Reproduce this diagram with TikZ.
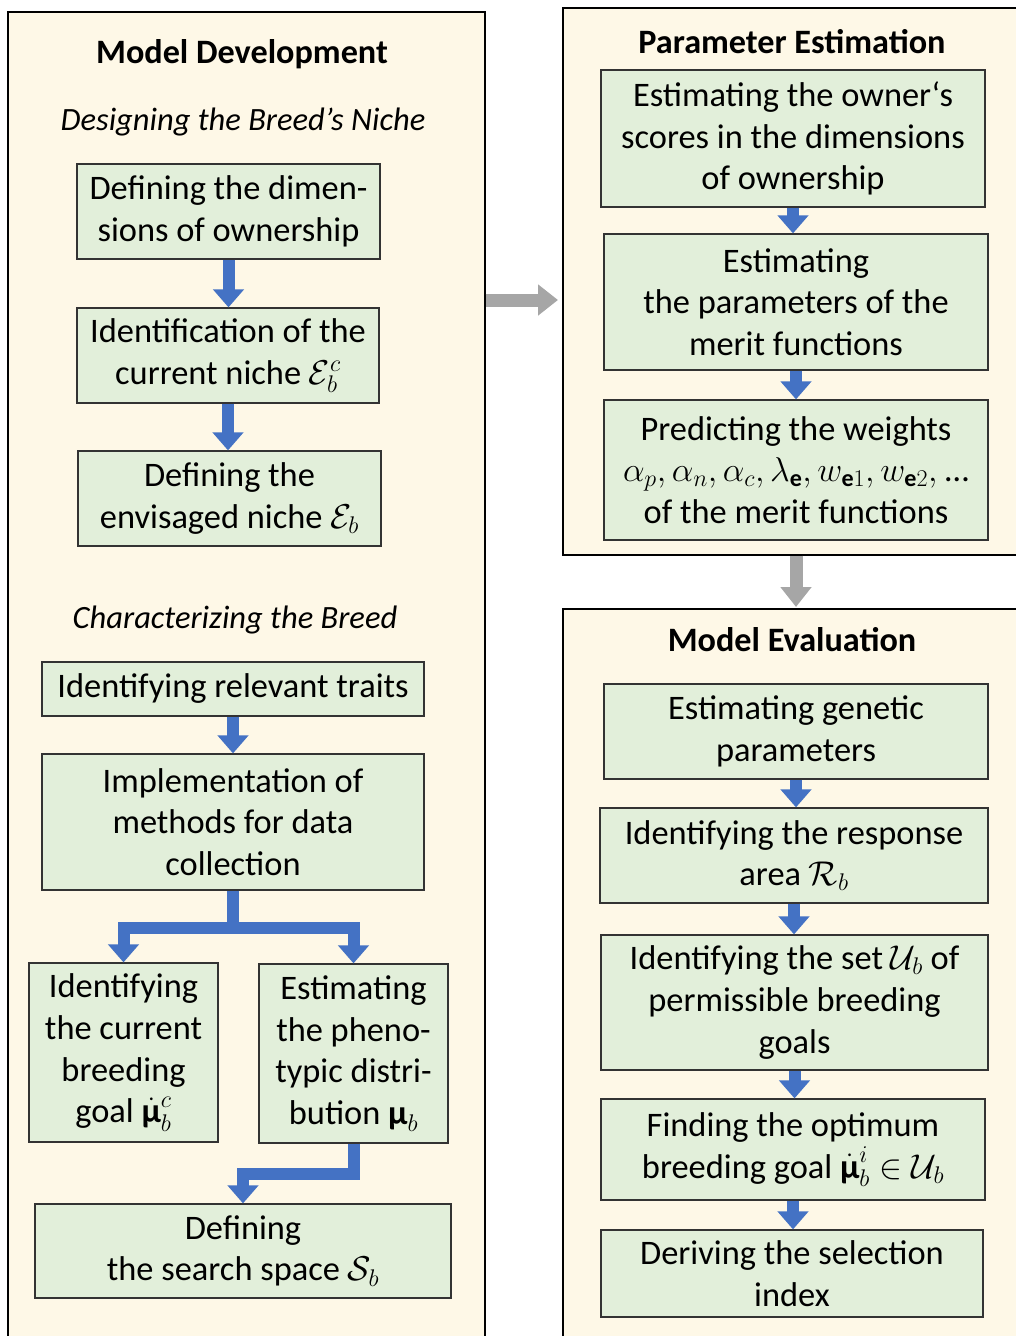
\RequirePackage{fix-cm}
\documentclass[tikz,border=0pt]{standalone}
\usepackage{amsmath,bm}
\usepackage{fontspec}
\setmainfont{Carlito}
\usetikzlibrary{arrows.meta}
\definecolor{cream}{HTML}{FEF8E7}
\definecolor{lgreen}{HTML}{E2EFDA}
\definecolor{bblue}{HTML}{4472C4}
\definecolor{agray}{HTML}{A6A6A6}
\newcommand{\bmu}{\text{\bfseries μ}}
\tikzset{
  panel/.style={draw=black, line width=1.3pt, fill=cream, inner sep=0pt},
  gbox/.style={draw=black!80, line width=1.2pt, fill=lgreen, align=center, inner sep=0pt,
    font=\fontsize{34.4}{41.7}\selectfont},
  ptitle/.style={font=\fontsize{34.2}{40}\selectfont\bfseries},
  sub/.style={font=\fontsize{32.5}{39}\selectfont\itshape},
  barrow/.style={draw=bblue, line width=12pt, line join=miter,
    -{Triangle[width=30pt,length=18pt]}},
  garrow/.style={draw=agray, line width=13pt,
    -{Triangle[width=30pt,length=20pt]}}
}
\begin{document}
\begin{tikzpicture}[x=1pt,y=-1pt]
\useasboundingbox (0,0) rectangle (1016,1336);
% panels
\node[panel, minimum width=477, minimum height=1328] (LP) at (246.5,676) {};
\node[panel, minimum width=454, minimum height=547] (PE) at (790,281.5) {};
\node[panel, minimum width=454, minimum height=731] (ME) at (790,974.5) {};
% titles
\node[ptitle] (t1) at (242,54) {Model Development};
\node[sub] (s1) at (243,122) {Designing the Breed’s Niche};
\node[sub] (s2) at (235,620) {Characterizing the Breed};
\node[ptitle] (t2) at (792,42) {Parameter Estimation};
\node[ptitle] (t3) at (792,640) {Model Evaluation};
% left boxes
\node[gbox, minimum width=303, minimum height=95] (L1) at (228.5,211.5) {Defining the dimen-\\sions of ownership};
\node[gbox, minimum width=302, minimum height=95] (L2) at (228,355.5) {Identification of the\\current niche $\mathcal{E}_b^c$};
\node[gbox, minimum width=303, minimum height=95] (L3) at (229.5,498.5) {Defining the\\envisaged niche $\mathcal{E}_b$};
\node[gbox, minimum width=382, minimum height=54] (L4) at (233,689) {Identifying relevant traits};
\node[gbox, minimum width=382, minimum height=136] (L5) at (233,822) {Implementation of\\methods for data\\collection};
\node[gbox, minimum width=189, minimum height=179] (L6) at (123.5,1052.5) {Identifying\\the current\\breeding\\goal $\dot{\bmu}_b^c$};
\node[gbox, minimum width=189, minimum height=179] (L7) at (353.5,1053.5) {Estimating\\the pheno-\\typic distri-\\bution $\bmu_b$};
\node[gbox, minimum width=416, minimum height=94] (L8) at (243,1251) {Defining\\the search space $\mathcal{S}_b$};
% right boxes
\node[gbox, minimum width=384, minimum height=137] (R1) at (793,138.5) {Estimating the owner‘s\\scores in the dimensions\\of ownership};
\node[gbox, minimum width=384, minimum height=136] (R2) at (796,302) {Estimating\\the parameters of the\\merit functions};
\node[gbox, minimum width=384, minimum height=140] (R3) at (796,470) {Predicting the weights\\$\alpha_p,\alpha_n,\alpha_c,\lambda_{\mathbf{e}},w_{\mathbf{e}1},w_{\mathbf{e}2},$ …\\of the merit functions};
\node[gbox, minimum width=384, minimum height=95] (E1) at (796,731.5) {Estimating genetic\\parameters};
\node[gbox, minimum width=388, minimum height=95] (E2) at (794,855.5) {Identifying the response\\area $\mathcal{R}_b$};
\node[gbox, minimum width=387, minimum height=135] (E3) at (794.5,1002.5) {Identifying the set $\mathcal{U}_b$ of\\permissible breeding\\goals};
\node[gbox, minimum width=384, minimum height=101] (E4) at (793,1149.5) {Finding the optimum\\breeding goal $\dot{\bmu}_b^i\in\mathcal{U}_b$};
\node[gbox, minimum width=382, minimum height=87] (E5) at (792,1273.5) {Deriving the selection\\index};
% blue arrows left
\draw[barrow] (L1.south) -- (L1.south |- L2.north);
\draw[barrow] (L2.south) -- (L2.south |- L3.north);
\draw[barrow] (L4.south) -- (L4.south |- L5.north);
\draw[barrow] (L5.south) -- ++(0,37) -| (L6.north);
\draw[barrow] (L5.south) -- ++(0,37) -| (L7.north);
\draw[barrow] (L7.south) -- ++(0,30) -| (L8.north);
% blue arrows right
\draw[barrow] (R1.south) -- (R1.south |- R2.north);
\draw[barrow] (R2.south) -- (R2.south |- R3.north);
\draw[barrow] (E1.south) -- (E1.south |- E2.north);
\draw[barrow] (E2.south) -- (E2.south |- E3.north);
\draw[barrow] (E3.south) -- (E3.south |- E4.north);
\draw[barrow] (E4.south) -- (E4.south |- E5.north);
% gray arrows
\coordinate (g1) at (558,300);
\draw[garrow] (LP.east |- g1) -- (g1);
\coordinate (g2) at (796,607);
\draw[garrow] (g2 |- PE.south) -- (g2);
\end{tikzpicture}
\end{document}
